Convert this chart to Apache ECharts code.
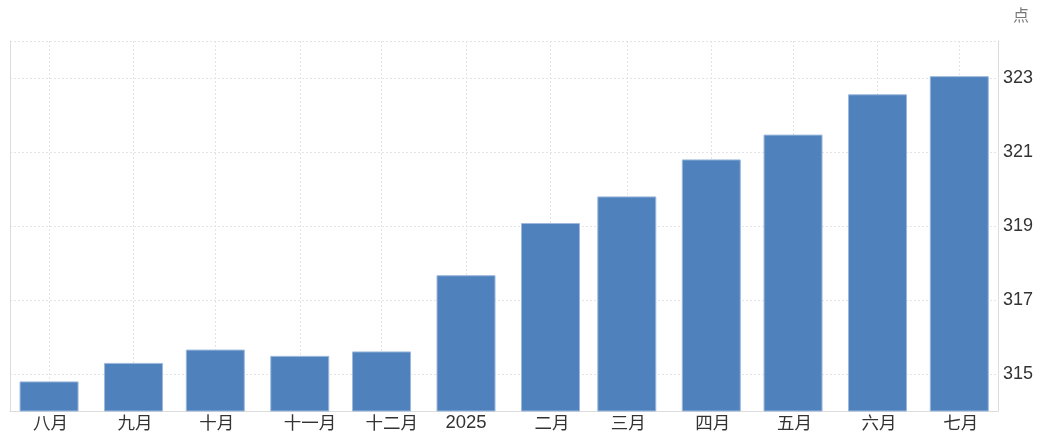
<!DOCTYPE html>
<html>
<head>
<meta charset="utf-8">
<script src="https://cdn.jsdelivr.net/npm/echarts@6/dist/echarts.min.js"></script>
<style>
html,body{margin:0;padding:0;background:#fff;}
#chart{width:1038px;height:444px;}
</style>
</head>
<body>
<div id="chart"></div>
<script>
const dates = ['2024-08-01','2024-09-01','2024-10-01','2024-11-01','2024-12-01','2025-01-01','2025-02-01','2025-03-01','2025-04-01','2025-05-01','2025-06-01','2025-07-01'];
const xLabels = ['八月','九月','十月','十一月','十二月','2025','二月','三月','四月','五月','六月','七月'];
const values = [314.80, 315.30, 315.66, 315.49, 315.61, 317.67, 319.08, 319.80, 320.80, 321.47, 322.56, 323.05];
const yTicks = [315, 317, 319, 321, 323];
const unitLabel = '点';

const ts = d => echarts.time.parse(d).getTime();
const stamps = dates.map(ts);
const seriesData = stamps.map((t, i) => [t, values[i]]);

const chart = echarts.init(document.getElementById('chart'), null, {renderer: 'canvas'});
const font = '"Liberation Sans", Arial, "Noto Sans CJK SC", sans-serif';
chart.setOption({
  animation: false,
  backgroundColor: '#fff',
  textStyle: {fontFamily: font},
  grid: {left: 10, right: 40, top: 41, bottom: 33, containLabel: false, outerBoundsMode: 'none'},
  graphic: [{
    type: 'text', right: 9, top: 7,
    style: {text: unitLabel, fill: '#777', font: '16px "Noto Sans CJK SC", sans-serif'}
  }],
  xAxis: {
    type: 'value',
    min: ts('2024-07-17 16:00'),
    max: ts('2025-07-15 05:00'),
    axisLine: {show: true, onZero: false, lineStyle: {color: '#dcdcdc', width: 1}},
    axisTick: {show: false, customValues: stamps},
    splitLine: {show: true, lineStyle: {color: '#e4e4e4', type: [2, 2], width: 1}},
    axisLabel: {
      customValues: stamps,
      margin: 3,
      color: '#333',
      fontSize: 18,
      fontFamily: font,
      showMinLabel: true,
      showMaxLabel: true,
      formatter: function (v) {
        const i = stamps.indexOf(v);
        if (i < 0) return '';
        const t = xLabels[i];
        return /^\d+$/.test(t) ? '{y|' + t + '}' : '{m|' + t + '}';
      },
      rich: {
        m: {width: 32, align: 'left', fontSize: 17.5, color: '#333', fontFamily: '"Noto Sans CJK SC", sans-serif'},
        y: {fontSize: 18.5, color: '#333', fontFamily: font}
      }
    }
  },
  yAxis: [{
    type: 'value',
    position: 'right',
    min: 314,
    max: 324,
    axisLine: {show: true, lineStyle: {color: '#dcdcdc', width: 1}},
    axisTick: {show: false, customValues: [315, 317, 319, 321, 323, 324]},
    splitLine: {show: true, lineStyle: {color: '#e4e4e4', type: [2, 2], width: 1}},
    axisLabel: {customValues: yTicks, margin: 5, color: '#333', fontSize: 18, fontFamily: font}
  }, {
    type: 'value',
    position: 'left',
    min: 314,
    max: 324,
    axisLine: {show: true, lineStyle: {color: '#dcdcdc', width: 1}},
    axisTick: {show: false},
    splitLine: {show: false},
    axisLabel: {show: false}
  }],
  series: [{
    type: 'bar',
    yAxisIndex: 0,
    data: seriesData,
    barWidth: 59,
    itemStyle: {color: '#4f81bd', borderColor: '#9db8dc', borderWidth: 1}
  }]
});
</script>
</body>
</html>
